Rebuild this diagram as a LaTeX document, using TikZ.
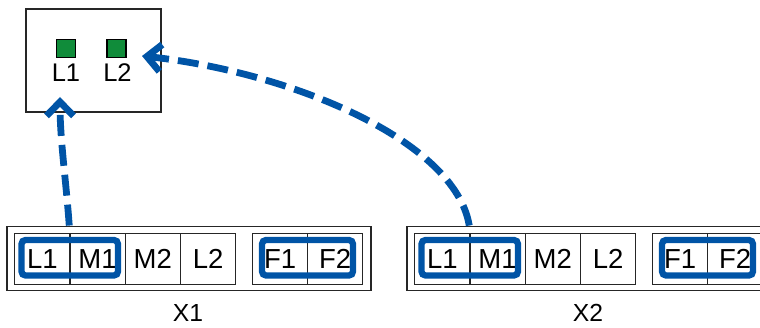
\documentclass[tikz,border=0pt]{standalone}
\usepackage{fontspec}
\setmainfont{Liberation Sans}
\usetikzlibrary{arrows.meta}
\definecolor{linkblue}{RGB}{0,84,166}
\definecolor{ledgreen}{RGB}{16,140,58}
\begin{document}
\begin{tikzpicture}[x=1pt,y=-1pt,
  frame/.style={draw=black!85, line width=1.4pt, inner sep=0pt},
  cell/.style={frame, anchor=north west, minimum width=55.25pt, minimum height=51pt,
    font=\fontsize{27.5}{30}\selectfont, text height=19.6pt, text depth=0pt},
  outerbox/.style={frame, minimum width=364pt, minimum height=64.5pt},
  selbox/.style={draw=linkblue, line width=6.3pt, rounded corners=4pt, inner sep=0pt, minimum height=35.5pt},
  led/.style={draw=black, line width=1.1pt, fill=ledgreen, inner sep=0pt, minimum width=19pt, minimum height=18.5pt},
  ledlabel/.style={font=\fontsize{25.5}{28}\selectfont, inner sep=0pt, text height=18.3pt, text depth=0pt},
  grouplabel/.style={font=\fontsize{24.7}{27}\selectfont, inner sep=0pt, text height=17.7pt, text depth=0pt},
  link/.style={draw=linkblue, line width=6.8pt, dash pattern=on 21pt off 9pt,
    -{Straight Barb[length=14pt,width=27pt]}}]
\useasboundingbox (0,0) rectangle (760,328);
\clip (0,0) rectangle (760,328);
% top module
\node[frame, minimum width=135pt, minimum height=103pt] (top) at (93.5,60.5) {};
\node[led] (g1) at (66,48.5) {};
\node[led] (g2) at (116.5,48.5) {};
\node[ledlabel] (t1) at (66,72.5) {L1};
\node[ledlabel] (t2) at (117.5,72.5) {L2};
\coordinate (tip1) at (60,97);
\coordinate (tip2) at (142,56);
% two connectors
\foreach \i/\dx in {1/0,2/400} {
  \node[outerbox] (xbox\i) at (189+\dx,258.5) {};
  \node[cell] (xa\i) at (14+\dx,233) {L1};
  \node[cell] (xb\i) at (69.25+\dx,233) {M1};
  \node[cell] (xc\i) at (124.5+\dx,233) {M2};
  \node[cell] (xd\i) at (179.75+\dx,233) {L2};
  \node[cell, minimum width=55pt] (xe\i) at (252+\dx,233) {F1};
  \node[cell, minimum width=55pt] (xf\i) at (307+\dx,233) {F2};
  \node[selbox, minimum width=96.5pt] (sa\i) at (69.75+\dx,257.75) {};
  \node[selbox, minimum width=91pt] (sb\i) at (307.5+\dx,257.75) {};
  \node[grouplabel] (lab\i) at (188+\dx,313) {X\i};
}
\draw[link] (xbox1.north -| xb1.west) .. controls (66,180) and (60,140) .. (tip1);
\draw[link] (xbox2.north -| xb2.west) .. controls (455,140) and (290,72) .. (tip2);
\end{tikzpicture}
\end{document}
